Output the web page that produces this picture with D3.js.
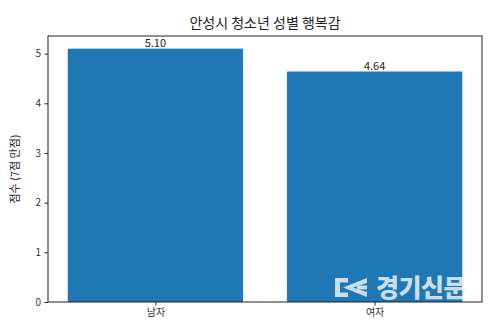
<!DOCTYPE html>
<html>
<head>
<meta charset="utf-8">
<script src="https://cdn.jsdelivr.net/npm/d3@7"></script>
<style>
  body { margin: 0; background: #fff; }
  text { font-family: "Noto Sans CJK KR", "DejaVu Sans", sans-serif; }
</style>
</head>
<body>
<div id="chart"></div>
<script>
// Data
var categories = ["남자", "여자"];
var scores = [5.10, 4.64];
var yTicks = [0, 1, 2, 3, 4, 5];

var W = 496, H = 328;
var margin = {left: 48, right: 14, top: 36, bottom: 26};
var width = W - margin.left - margin.right;
var height = H - margin.top - margin.bottom;

var svg = d3.select("#chart").append("svg")
    .attr("width", W)
    .attr("height", H);

var g = svg.append("g")
    .attr("transform", "translate(" + margin.left + "," + margin.top + ")");

// matplotlib style limits: bar width 0.8, 5% margin
var x = d3.scaleLinear().domain([-0.49, 1.49]).range([0, width]);
var y = d3.scaleLinear().domain([0, 5.1 * 1.05]).range([height, 0]);

// Bars
g.selectAll(".bar")
    .data(scores)
    .enter().append("rect")
    .attr("class", "bar")
    .attr("x", function(d, i) { return x(i - 0.4); })
    .attr("width", x(0.8) - x(0))
    .attr("y", function(d) { return y(d); })
    .attr("height", function(d) { return height - y(d); })
    .attr("fill", "#1f77b4");

// Value labels
g.selectAll(".val")
    .data(scores)
    .enter().append("text")
    .attr("class", "val")
    .attr("x", function(d, i) { return x(i); })
    .attr("y", function(d) { return y(d) - 2; })
    .attr("text-anchor", "middle")
    .attr("font-size", 11)
    .attr("fill", "#222")
    .text(function(d) { return d.toFixed(2); });

// Axes
var yAxis = d3.axisLeft(y).tickValues(yTicks).tickFormat(d3.format("d"))
    .tickSize(3.5).tickPadding(3.5);
var gy = g.append("g").call(yAxis);
gy.select(".domain").remove();
gy.selectAll("text").attr("font-size", 10).attr("fill", "#333");
gy.selectAll("line").attr("stroke", "#222");

var xAxis = d3.axisBottom(x).tickValues([0, 1])
    .tickFormat(function(d) { return categories[d]; })
    .tickSize(3.5).tickPadding(3.5);
var gx = g.append("g").attr("transform", "translate(0," + height + ")").call(xAxis);
gx.select(".domain").remove();
gx.selectAll("text").attr("font-size", 10).attr("fill", "#333");
gx.selectAll("line").attr("stroke", "#222");

// Watermark (drawn before frame so frame stays on top)
var wm = svg.append("g").attr("opacity", 0.82).attr("fill", "#f0f4f8");
wm.append("path")
    .attr("d", "M335,278 L348,278 L348,282.5 L340,282.5 L340,292.5 L348,292.5 L348,297 L335,297 Z");
wm.append("path")
    .attr("d", "M343,287.5 L367,278 L367,283 L353,287.5 L367,292 L367,297 Z");
wm.append("path")
    .attr("d", "M357,285.5 L367,285.5 L367,289.5 L357,289.5 Z");
wm.append("text")
    .attr("x", 421)
    .attr("y", 297)
    .attr("text-anchor", "middle")
    .attr("font-size", 25)
    .attr("font-weight", "900")
    .attr("letter-spacing", -0.5)
    .text("경기신문");

// Frame
g.append("rect")
    .attr("width", width)
    .attr("height", height)
    .attr("fill", "none")
    .attr("stroke", "#222")
    .attr("stroke-width", 1);

// Title
svg.append("text")
    .attr("x", margin.left + width / 2)
    .attr("y", 28)
    .attr("text-anchor", "middle")
    .attr("font-size", 14)
    .attr("fill", "#222")
    .text("안성시 청소년 성별 행복감");

// Y label
svg.append("text")
    .attr("transform", "translate(19," + (margin.top + height / 2) + ") rotate(-90)")
    .attr("text-anchor", "middle")
    .attr("font-size", 11)
    .attr("fill", "#222")
    .text("점수 (7점 만점)");
</script>
</body>
</html>
